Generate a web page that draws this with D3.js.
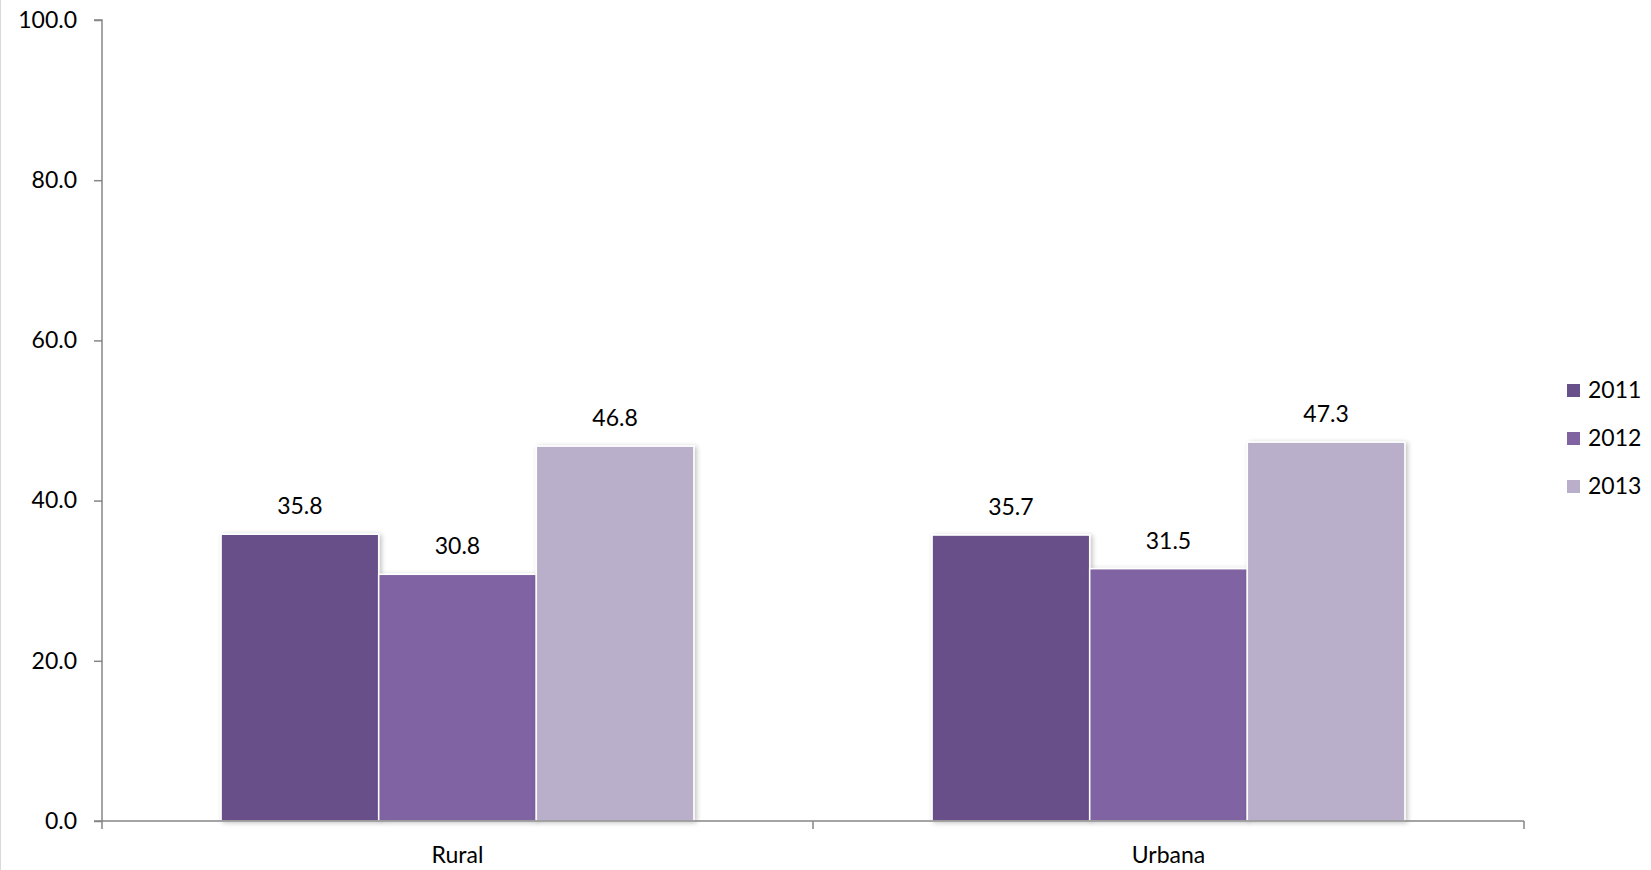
<!DOCTYPE html>
<html>
<head>
<meta charset="utf-8">
<script src="https://cdn.jsdelivr.net/npm/d3@7"></script>
<style>
  html, body { margin: 0; padding: 0; background: #fff; }
  svg { display: block; }
  text { font-family: Lato, "Open Sans", sans-serif; fill: #000; }
</style>
</head>
<body>
<svg id="chart" width="1651" height="870"></svg>
<script>
const categories = ["Rural", "Urbana"];
const seriesNames = ["2011", "2012", "2013"];
const values2011 = [35.8, 35.7];
const values2012 = [30.8, 31.5];
const values2013 = [46.8, 47.3];
const yTicks = [0, 20, 40, 60, 80, 100];
const colors = ["#68508A", "#8064A2", "#B9AFCB"];

(function () {
const FS = 23;
const seriesValues = [values2011, values2012, values2013];
const data = categories.map((c, i) => ({
  category: c,
  values: seriesNames.map((s, j) => ({ series: s, value: seriesValues[j][i] }))
}));

const svg = d3.select("#chart");
const mLeft = 102, mRight = 1524, mTop = 20, mBottom = 821;

const defs = svg.append("defs");
const f = defs.append("filter").attr("id", "shadow").attr("x", "-10%").attr("y", "-10%").attr("width", "130%").attr("height", "130%");
f.append("feGaussianBlur").attr("in", "SourceAlpha").attr("stdDeviation", 2.5);
f.append("feOffset").attr("dx", 2).attr("dy", 1).attr("result", "b");
f.append("feComponentTransfer").append("feFuncA").attr("type", "linear").attr("slope", 0.25);
const m = f.append("feMerge");
m.append("feMergeNode");
m.append("feMergeNode").attr("in", "SourceGraphic");

// chart frame left edge
svg.append("line").attr("x1", 0.5).attr("x2", 0.5).attr("y1", 0).attr("y2", 870)
  .attr("stroke", "#d9d9d9").attr("stroke-width", 1);

const x0 = d3.scaleBand().domain(categories).range([mLeft, mRight]).padding(0);
const groupFrac = 0.665;
const x1 = d3.scaleBand().domain(seriesNames).range([0, x0.bandwidth() * groupFrac]).padding(0);
const y = d3.scaleLinear().domain([0, 100]).range([mBottom, mTop]);

// Y axis
const yAxis = d3.axisLeft(y).tickValues(yTicks).tickFormat(d3.format(".1f")).tickSize(8).tickPadding(17);
const gy = svg.append("g").attr("transform", `translate(${mLeft},0)`).call(yAxis);
gy.selectAll("path, line").attr("stroke", "#868686").attr("stroke-width", 1.5);
gy.select(".domain").attr("d", `M-8,${mTop}H0V${mBottom}H-8`);
gy.selectAll("text").attr("font-size", FS).attr("font-family", "Lato, 'Open Sans', sans-serif").attr("fill", "#000");

// bars
const groups = svg.append("g").selectAll("g").data(data).join("g")
  .attr("transform", d => `translate(${x0(d.category) + (x0.bandwidth() * (1 - groupFrac)) / 2},0)`);

groups.selectAll("rect").data(d => d.values).join("rect")
  .attr("x", d => x1(d.series))
  .attr("y", d => y(d.value))
  .attr("width", x1.bandwidth())
  .attr("height", d => y(0) - y(d.value))
  .attr("fill", (d, i) => colors[i])
  .attr("stroke", "#fff").attr("stroke-width", 1.5)
  .attr("filter", "url(#shadow)");

groups.selectAll("text").data(d => d.values).join("text")
  .attr("x", d => x1(d.series) + x1.bandwidth() / 2)
  .attr("y", d => y(d.value) - 20)
  .attr("text-anchor", "middle")
  .attr("font-size", FS)
  .text(d => d3.format(".1f")(d.value));

// X axis
const gx = svg.append("g").attr("transform", `translate(0,${mBottom})`);
gx.append("line").attr("x1", mLeft).attr("x2", mRight).attr("y1", 0).attr("y2", 0)
  .attr("stroke", "#868686").attr("stroke-width", 1.5);
const xTickPos = [mLeft, ...categories.slice(1).map(c => x0(c)), mRight];
gx.selectAll("line.tick").data(xTickPos).join("line").attr("class", "tick")
  .attr("x1", d => d).attr("x2", d => d).attr("y1", 0).attr("y2", 8)
  .attr("stroke", "#868686").attr("stroke-width", 1.5);
gx.selectAll("text.cat").data(categories).join("text").attr("class", "cat")
  .attr("x", d => x0(d) + x0.bandwidth() / 2)
  .attr("y", 42)
  .attr("text-anchor", "middle")
  .attr("font-size", FS)
  .text(d => d);

// legend
const legend = svg.append("g").attr("transform", "translate(1567,384)");
const li = legend.selectAll("g").data(seriesNames).join("g")
  .attr("transform", (d, i) => `translate(0,${i * 48})`);
li.append("rect").attr("width", 13).attr("height", 13).attr("fill", (d, i) => colors[i]);
li.append("text").attr("x", 21).attr("y", 14).attr("font-size", FS).text(d => d);
})();
</script>
</body>
</html>
